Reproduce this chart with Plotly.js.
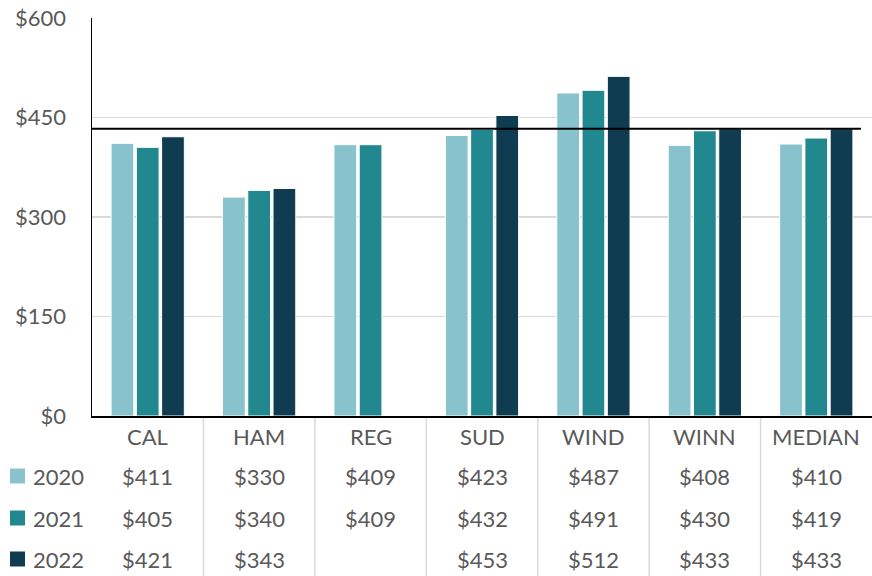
<!DOCTYPE html>
<html>
<head>
<meta charset="utf-8">
<script src="https://cdn.plot.ly/plotly-3.0.1.min.js"></script>
<style>
html,body{margin:0;padding:0;background:#fff;}
#chart{width:872px;height:576px;}
</style>
</head>
<body>
<div id="chart"></div>
<script>
const categories = ["CAL", "HAM", "REG", "SUD", "WIND", "WINN", "MEDIAN"];
const years = ["2020", "2021", "2022"];
const values2020 = [411, 330, 409, 423, 487, 408, 410];
const values2021 = [405, 340, 409, 432, 491, 430, 419];
const values2022 = [421, 343, null, 453, 512, 433, 433];
const referenceValue = 433;
const yTicks = [0, 150, 300, 450, 600];

const colors = ["#88C2CC", "#218890", "#0F3C50"];
const series = [values2020, values2021, values2022];
const FONT = "Lato, 'Open Sans', sans-serif";
const TXT = "#595959";
const FS = 22;

// layout geometry in pixels
const W = 872, H = 576;
const mL = 92, mR = 0, mT = 18, mB = 160;
const plotW = W - mL - mR, plotH = H - mT - mB;
const px2x = p => (p - mL) / plotW;
const px2y = p => (H - mB - p) / plotH;

const traces = series.map((vals, i) => ({
  type: "bar",
  name: years[i],
  x: categories,
  y: vals,
  marker: {color: colors[i], line: {color: "#ffffff", width: 1}},
  hoverinfo: "x+y"
}));

const annotations = [];
const shapes = [];
const rowY = [476, 518, 559];

categories.forEach((c, j) => {
  annotations.push({xref: "x", yref: "paper", x: c, y: px2y(436), text: c,
    showarrow: false, font: {family: FONT, size: FS, color: TXT}, xanchor: "center", yanchor: "middle"});
  series.forEach((vals, i) => {
    if (vals[j] !== null && vals[j] !== undefined) {
      annotations.push({xref: "x", yref: "paper", x: c, y: px2y(rowY[i]), text: "$" + vals[j],
        showarrow: false, font: {family: FONT, size: FS, color: TXT}, xanchor: "center", yanchor: "middle"});
    }
  });
  if (j < categories.length - 1) {
    shapes.push({type: "line", xref: "x", yref: "paper", x0: j + 0.5, x1: j + 0.5,
      y0: 0, y1: px2y(H + 2), line: {color: "#D9D9D9", width: 1.5}, layer: "below"});
  }
});

years.forEach((y, i) => {
  shapes.push({type: "rect", xref: "paper", yref: "paper",
    x0: px2x(10), x1: px2x(25), y0: px2y(rowY[i] + 7.5), y1: px2y(rowY[i] - 7.5),
    fillcolor: colors[i], line: {width: 0}});
  annotations.push({xref: "paper", yref: "paper", x: px2x(31), y: px2y(rowY[i]), text: y,
    showarrow: false, font: {family: FONT, size: FS, color: TXT}, xanchor: "left", yanchor: "middle"});
});

shapes.push({type: "line", xref: "paper", yref: "y", x0: 0, x1: px2x(861),
  y0: referenceValue, y1: referenceValue, line: {color: "#000000", width: 2}});

const layout = {
  width: W, height: H,
  margin: {l: mL, r: mR, t: mT, b: mB, pad: 0},
  paper_bgcolor: "#ffffff", plot_bgcolor: "#ffffff",
  barmode: "group", bargap: 0.32, bargroupgap: 0.1,
  showlegend: false,
  xaxis: {type: "category", range: [-0.5, 6.5], showticklabels: false, ticks: "",
    showgrid: false, showline: true, linecolor: "#000000", linewidth: 1.5, zeroline: false, fixedrange: true},
  yaxis: {range: [0, 600], tickvals: yTicks, ticktext: yTicks.map(v => "$" + v),
    tickfont: {family: FONT, size: FS, color: TXT}, ticks: "", ticklabelstandoff: 20,
    showgrid: true, gridcolor: "#D9D9D9", gridwidth: 1.5, zeroline: false,
    showline: true, linecolor: "#000000", linewidth: 1.5, fixedrange: true},
  shapes: shapes,
  annotations: annotations
};

Plotly.newPlot("chart", traces, layout, {displayModeBar: false, staticPlot: true});
</script>
</body>
</html>
